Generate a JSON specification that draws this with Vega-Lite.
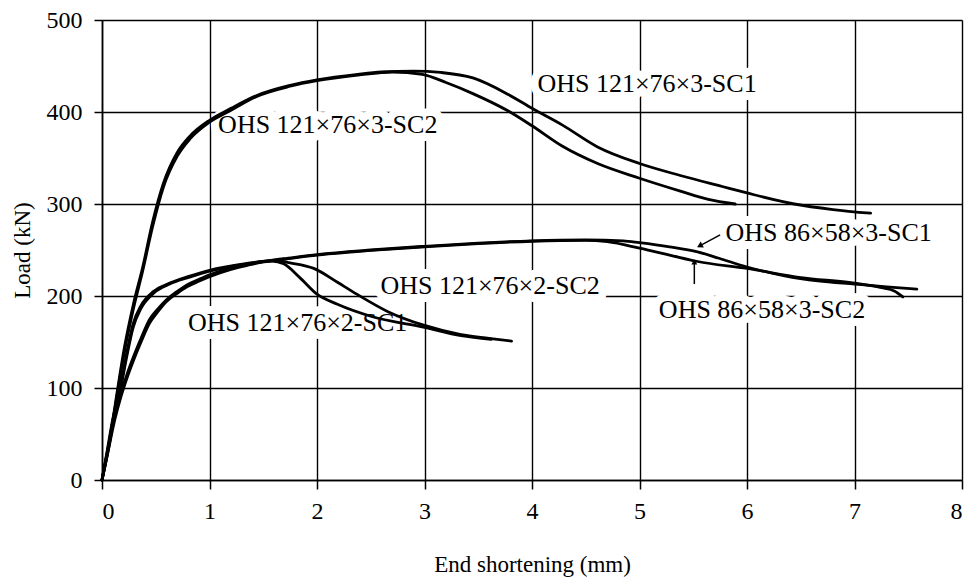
{
  "$schema": "https://vega.github.io/schema/vega-lite/v6.json",
  "autosize": "none",
  "width": 860,
  "height": 460,
  "padding": {"left": 102, "top": 20, "right": 8, "bottom": 98},
  "background": "white",
  "config": {
    "view": {"stroke": null},
    "font": "Liberation Serif",
    "axis": {
      "grid": true,
      "gridColor": "black",
      "gridWidth": 1.4,
      "gridOpacity": 1,
      "domainColor": "black",
      "domainWidth": 1.6,
      "tickColor": "black",
      "tickWidth": 1.5,
      "labelColor": "black",
      "titleColor": "black",
      "labelFont": "Liberation Serif",
      "titleFont": "Liberation Serif",
      "labelFontSize": 24,
      "titleFontSize": 23,
      "titleFontWeight": "normal"
    }
  },
  "datasets": {
    "curves": [
      {"s": "121x76x3-SC1", "x": 0, "y": 0}, {"s": "121x76x3-SC1", "x": 0.07, "y": 42}, {"s": "121x76x3-SC1", "x": 0.14, "y": 95}, {"s": "121x76x3-SC1", "x": 0.21, "y": 145}, {"s": "121x76x3-SC1", "x": 0.29, "y": 190}, {"s": "121x76x3-SC1", "x": 0.38, "y": 232}, {"s": "121x76x3-SC1", "x": 0.47, "y": 280}, {"s": "121x76x3-SC1", "x": 0.57, "y": 322}, {"s": "121x76x3-SC1", "x": 0.7, "y": 356}, {"s": "121x76x3-SC1", "x": 0.82, "y": 374}, {"s": "121x76x3-SC1", "x": 1.0, "y": 391}, {"s": "121x76x3-SC1", "x": 1.2, "y": 404}, {"s": "121x76x3-SC1", "x": 1.44, "y": 418}, {"s": "121x76x3-SC1", "x": 1.75, "y": 429}, {"s": "121x76x3-SC1", "x": 2.0, "y": 435}, {"s": "121x76x3-SC1", "x": 2.38, "y": 441}, {"s": "121x76x3-SC1", "x": 2.6, "y": 443.5}, {"s": "121x76x3-SC1", "x": 2.9, "y": 444.5}, {"s": "121x76x3-SC1", "x": 3.15, "y": 443}, {"s": "121x76x3-SC1", "x": 3.45, "y": 437}, {"s": "121x76x3-SC1", "x": 3.78, "y": 419}, {"s": "121x76x3-SC1", "x": 4.0, "y": 404}, {"s": "121x76x3-SC1", "x": 4.28, "y": 386}, {"s": "121x76x3-SC1", "x": 4.61, "y": 362}, {"s": "121x76x3-SC1", "x": 5.0, "y": 344}, {"s": "121x76x3-SC1", "x": 5.38, "y": 331}, {"s": "121x76x3-SC1", "x": 5.77, "y": 319}, {"s": "121x76x3-SC1", "x": 6.0, "y": 312}, {"s": "121x76x3-SC1", "x": 6.44, "y": 300}, {"s": "121x76x3-SC1", "x": 6.8, "y": 294}, {"s": "121x76x3-SC1", "x": 7.15, "y": 290},

      {"s": "121x76x3-SC2", "x": 0, "y": 0}, {"s": "121x76x3-SC2", "x": 0.07, "y": 40}, {"s": "121x76x3-SC2", "x": 0.14, "y": 92}, {"s": "121x76x3-SC2", "x": 0.21, "y": 140}, {"s": "121x76x3-SC2", "x": 0.29, "y": 185}, {"s": "121x76x3-SC2", "x": 0.38, "y": 228}, {"s": "121x76x3-SC2", "x": 0.47, "y": 275}, {"s": "121x76x3-SC2", "x": 0.57, "y": 318}, {"s": "121x76x3-SC2", "x": 0.7, "y": 352}, {"s": "121x76x3-SC2", "x": 0.82, "y": 371}, {"s": "121x76x3-SC2", "x": 1.0, "y": 389}, {"s": "121x76x3-SC2", "x": 1.2, "y": 402}, {"s": "121x76x3-SC2", "x": 1.44, "y": 417}, {"s": "121x76x3-SC2", "x": 1.75, "y": 428}, {"s": "121x76x3-SC2", "x": 2.0, "y": 434}, {"s": "121x76x3-SC2", "x": 2.38, "y": 440}, {"s": "121x76x3-SC2", "x": 2.7, "y": 443.5}, {"s": "121x76x3-SC2", "x": 2.98, "y": 441}, {"s": "121x76x3-SC2", "x": 3.2, "y": 432}, {"s": "121x76x3-SC2", "x": 3.45, "y": 420}, {"s": "121x76x3-SC2", "x": 3.78, "y": 401}, {"s": "121x76x3-SC2", "x": 4.0, "y": 385}, {"s": "121x76x3-SC2", "x": 4.28, "y": 363}, {"s": "121x76x3-SC2", "x": 4.61, "y": 344}, {"s": "121x76x3-SC2", "x": 5.0, "y": 328}, {"s": "121x76x3-SC2", "x": 5.38, "y": 314}, {"s": "121x76x3-SC2", "x": 5.64, "y": 305}, {"s": "121x76x3-SC2", "x": 5.89, "y": 300},

      {"s": "121x76x2-SC1", "x": 0, "y": 0}, {"s": "121x76x2-SC1", "x": 0.06, "y": 33}, {"s": "121x76x2-SC1", "x": 0.12, "y": 66}, {"s": "121x76x2-SC1", "x": 0.18, "y": 92}, {"s": "121x76x2-SC1", "x": 0.23, "y": 110}, {"s": "121x76x2-SC1", "x": 0.3, "y": 132}, {"s": "121x76x2-SC1", "x": 0.37, "y": 152}, {"s": "121x76x2-SC1", "x": 0.44, "y": 170}, {"s": "121x76x2-SC1", "x": 0.52, "y": 183}, {"s": "121x76x2-SC1", "x": 0.6, "y": 194}, {"s": "121x76x2-SC1", "x": 0.7, "y": 203}, {"s": "121x76x2-SC1", "x": 0.79, "y": 210}, {"s": "121x76x2-SC1", "x": 0.9, "y": 216}, {"s": "121x76x2-SC1", "x": 1.0, "y": 221}, {"s": "121x76x2-SC1", "x": 1.2, "y": 229}, {"s": "121x76x2-SC1", "x": 1.38, "y": 234}, {"s": "121x76x2-SC1", "x": 1.5, "y": 237}, {"s": "121x76x2-SC1", "x": 1.58, "y": 238}, {"s": "121x76x2-SC1", "x": 1.69, "y": 235}, {"s": "121x76x2-SC1", "x": 1.84, "y": 220}, {"s": "121x76x2-SC1", "x": 2.0, "y": 202}, {"s": "121x76x2-SC1", "x": 2.19, "y": 191}, {"s": "121x76x2-SC1", "x": 2.5, "y": 178}, {"s": "121x76x2-SC1", "x": 3.0, "y": 166}, {"s": "121x76x2-SC1", "x": 3.34, "y": 157}, {"s": "121x76x2-SC1", "x": 3.62, "y": 153},

      {"s": "121x76x2-SC2", "x": 0, "y": 0}, {"s": "121x76x2-SC2", "x": 0.06, "y": 36}, {"s": "121x76x2-SC2", "x": 0.12, "y": 70}, {"s": "121x76x2-SC2", "x": 0.18, "y": 96}, {"s": "121x76x2-SC2", "x": 0.23, "y": 114}, {"s": "121x76x2-SC2", "x": 0.3, "y": 136}, {"s": "121x76x2-SC2", "x": 0.37, "y": 156}, {"s": "121x76x2-SC2", "x": 0.44, "y": 174}, {"s": "121x76x2-SC2", "x": 0.52, "y": 186}, {"s": "121x76x2-SC2", "x": 0.6, "y": 196}, {"s": "121x76x2-SC2", "x": 0.7, "y": 205}, {"s": "121x76x2-SC2", "x": 0.79, "y": 212}, {"s": "121x76x2-SC2", "x": 0.9, "y": 218}, {"s": "121x76x2-SC2", "x": 1.0, "y": 223}, {"s": "121x76x2-SC2", "x": 1.2, "y": 230}, {"s": "121x76x2-SC2", "x": 1.38, "y": 235}, {"s": "121x76x2-SC2", "x": 1.5, "y": 237.5}, {"s": "121x76x2-SC2", "x": 1.62, "y": 238.5}, {"s": "121x76x2-SC2", "x": 1.75, "y": 236}, {"s": "121x76x2-SC2", "x": 1.97, "y": 230}, {"s": "121x76x2-SC2", "x": 2.19, "y": 215}, {"s": "121x76x2-SC2", "x": 2.37, "y": 202}, {"s": "121x76x2-SC2", "x": 2.66, "y": 183}, {"s": "121x76x2-SC2", "x": 3.0, "y": 168}, {"s": "121x76x2-SC2", "x": 3.34, "y": 158}, {"s": "121x76x2-SC2", "x": 3.6, "y": 154}, {"s": "121x76x2-SC2", "x": 3.81, "y": 151},

      {"s": "86x58x3-SC1", "x": 0, "y": 0}, {"s": "86x58x3-SC1", "x": 0.05, "y": 33}, {"s": "86x58x3-SC1", "x": 0.1, "y": 66}, {"s": "86x58x3-SC1", "x": 0.17, "y": 100}, {"s": "86x58x3-SC1", "x": 0.23, "y": 138}, {"s": "86x58x3-SC1", "x": 0.29, "y": 170}, {"s": "86x58x3-SC1", "x": 0.36, "y": 189}, {"s": "86x58x3-SC1", "x": 0.48, "y": 205}, {"s": "86x58x3-SC1", "x": 0.63, "y": 214}, {"s": "86x58x3-SC1", "x": 0.8, "y": 221}, {"s": "86x58x3-SC1", "x": 1.0, "y": 228}, {"s": "86x58x3-SC1", "x": 1.38, "y": 236}, {"s": "86x58x3-SC1", "x": 1.69, "y": 240.5}, {"s": "86x58x3-SC1", "x": 2.0, "y": 245}, {"s": "86x58x3-SC1", "x": 2.5, "y": 250}, {"s": "86x58x3-SC1", "x": 3.0, "y": 254}, {"s": "86x58x3-SC1", "x": 3.5, "y": 257.5}, {"s": "86x58x3-SC1", "x": 4.0, "y": 260}, {"s": "86x58x3-SC1", "x": 4.5, "y": 261}, {"s": "86x58x3-SC1", "x": 4.85, "y": 260}, {"s": "86x58x3-SC1", "x": 5.0, "y": 258}, {"s": "86x58x3-SC1", "x": 5.28, "y": 253.5}, {"s": "86x58x3-SC1", "x": 5.54, "y": 248}, {"s": "86x58x3-SC1", "x": 5.74, "y": 241}, {"s": "86x58x3-SC1", "x": 6.0, "y": 231.5}, {"s": "86x58x3-SC1", "x": 6.35, "y": 222}, {"s": "86x58x3-SC1", "x": 6.66, "y": 216.5}, {"s": "86x58x3-SC1", "x": 7.0, "y": 213}, {"s": "86x58x3-SC1", "x": 7.3, "y": 210}, {"s": "86x58x3-SC1", "x": 7.58, "y": 207.5},

      {"s": "86x58x3-SC2", "x": 0, "y": 0}, {"s": "86x58x3-SC2", "x": 0.05, "y": 31}, {"s": "86x58x3-SC2", "x": 0.1, "y": 63}, {"s": "86x58x3-SC2", "x": 0.17, "y": 97}, {"s": "86x58x3-SC2", "x": 0.23, "y": 134}, {"s": "86x58x3-SC2", "x": 0.29, "y": 166}, {"s": "86x58x3-SC2", "x": 0.36, "y": 186}, {"s": "86x58x3-SC2", "x": 0.48, "y": 203}, {"s": "86x58x3-SC2", "x": 0.63, "y": 213}, {"s": "86x58x3-SC2", "x": 0.8, "y": 220}, {"s": "86x58x3-SC2", "x": 1.0, "y": 227}, {"s": "86x58x3-SC2", "x": 1.38, "y": 235.5}, {"s": "86x58x3-SC2", "x": 1.69, "y": 240}, {"s": "86x58x3-SC2", "x": 2.0, "y": 244.5}, {"s": "86x58x3-SC2", "x": 2.5, "y": 249.5}, {"s": "86x58x3-SC2", "x": 3.0, "y": 253.5}, {"s": "86x58x3-SC2", "x": 3.5, "y": 257}, {"s": "86x58x3-SC2", "x": 4.0, "y": 259.5}, {"s": "86x58x3-SC2", "x": 4.5, "y": 260.5}, {"s": "86x58x3-SC2", "x": 4.7, "y": 259}, {"s": "86x58x3-SC2", "x": 5.0, "y": 252}, {"s": "86x58x3-SC2", "x": 5.28, "y": 244.5}, {"s": "86x58x3-SC2", "x": 5.54, "y": 237.5}, {"s": "86x58x3-SC2", "x": 6.0, "y": 230}, {"s": "86x58x3-SC2", "x": 6.5, "y": 220}, {"s": "86x58x3-SC2", "x": 7.0, "y": 214}, {"s": "86x58x3-SC2", "x": 7.25, "y": 209}, {"s": "86x58x3-SC2", "x": 7.37, "y": 205.5}, {"s": "86x58x3-SC2", "x": 7.45, "y": 199}
    ],
    "labels": [
      {"t": "OHS 121×76×3-SC1", "x": 4.05, "y": 430},
      {"t": "OHS 121×76×3-SC2", "x": 1.08, "y": 386},
      {"t": "OHS 86×58×3-SC1", "x": 5.8, "y": 268},
      {"t": "OHS 121×76×2-SC2", "x": 2.59, "y": 211},
      {"t": "OHS 86×58×3-SC2", "x": 5.18, "y": 185},
      {"t": "OHS 121×76×2-SC1", "x": 0.8, "y": 171}
    ],
    "leaders": [
      {"s": "86x58x3-SC1", "x": 5.75, "y": 266.5, "x2": 5.56, "y2": 254.5},
      {"s": "86x58x3-SC2", "x": 5.51, "y": 213, "x2": 5.51, "y2": 237}
    ]
  },
  "layer": [
    {
      "data": {"name": "labels"},
      "mark": {"type": "text", "align": "left", "baseline": "middle", "font": "Liberation Serif", "fontSize": 26, "color": "white", "stroke": "white", "strokeWidth": 16, "strokeJoin": "round"},
      "encoding": {
        "x": {"field": "x", "type": "quantitative", "scale": {"domain": [0, 8]},
          "axis": {"values": [0, 1, 2, 3, 4, 5, 6, 7, 8], "format": "d", "tickSize": 9, "labelPadding": 10, "title": "End shortening (mm)", "titlePadding": 30}},
        "y": {"field": "y", "type": "quantitative", "scale": {"domain": [0, 500]},
          "axis": {"values": [0, 100, 200, 300, 400, 500], "format": "d", "tickSize": 8, "labelPadding": 12, "title": "Load (kN)", "titlePadding": 12}},
        "text": {"field": "t"}
      }
    },
    {
      "data": {"name": "labels"},
      "mark": {"type": "text", "align": "left", "baseline": "middle", "font": "Liberation Serif", "fontSize": 26, "color": "black"},
      "encoding": {
        "x": {"field": "x", "type": "quantitative"},
        "y": {"field": "y", "type": "quantitative"},
        "text": {"field": "t"}
      }
    },
    {
      "data": {"name": "curves"},
      "mark": {"type": "line", "color": "black", "strokeWidth": 2.8, "interpolate": "monotone", "strokeCap": "round"},
      "encoding": {
        "x": {"field": "x", "type": "quantitative"},
        "y": {"field": "y", "type": "quantitative"},
        "detail": {"field": "s"}
      }
    },
    {
      "data": {"name": "leaders"},
      "mark": {"type": "rule", "color": "black", "strokeWidth": 1.5},
      "encoding": {
        "x": {"field": "x", "type": "quantitative"},
        "y": {"field": "y", "type": "quantitative"},
        "x2": {"field": "x2"},
        "y2": {"field": "y2"}
      }
    },
    {
      "data": {"name": "leaders"},
      "transform": [{"filter": "datum.s === '86x58x3-SC1'"}],
      "mark": {"type": "point", "shape": "triangle-up", "filled": true, "color": "black", "size": 45, "angle": 242, "opacity": 1},
      "encoding": {
        "x": {"field": "x2", "type": "quantitative"},
        "y": {"field": "y2", "type": "quantitative"}
      }
    },
    {
      "data": {"name": "leaders"},
      "transform": [{"filter": "datum.s === '86x58x3-SC2'"}],
      "mark": {"type": "point", "shape": "triangle-up", "filled": true, "color": "black", "size": 35, "opacity": 1},
      "encoding": {
        "x": {"field": "x2", "type": "quantitative"},
        "y": {"field": "y2", "type": "quantitative"}
      }
    }
  ]
}
